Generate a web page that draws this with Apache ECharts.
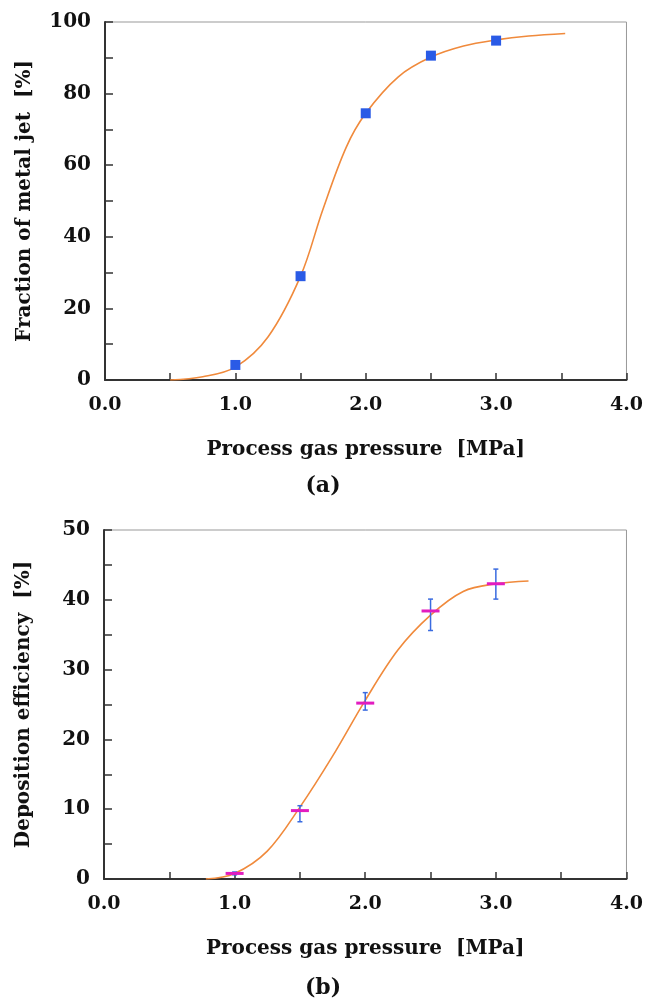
<!DOCTYPE html>
<html style="height: 100%;">
<head>
    <meta charset="UTF-8">
    <script src="https://cdn.jsdelivr.net/npm/echarts/dist/echarts.min.js"></script>
</head>
<body style="height: 100%; margin: 0; background: #fff;">
    <div id="chart" style="width: 646px; height: 1002px;"></div>

    <script type="text/javascript">
        // (a) fraction of metal jet, measured points
        var fracX = [1.0, 1.5, 2.0, 2.5, 3.0];
        var fracY = [4.2, 29.0, 74.5, 90.6, 94.8];
        // (a) fitted curve
        var fracCurveX = [0.5, 0.75, 1.0, 1.25, 1.5, 1.67, 1.85, 2.0, 2.25, 2.5, 2.75, 3.0, 3.25, 3.53];
        var fracCurveY = [0.0, 0.9, 3.6, 12.0, 29.0, 47.5, 65.0, 74.5, 84.7, 90.2, 93.3, 95.0, 96.1, 96.8];

        // (b) deposition efficiency, measured points with error bars
        var depX = [1.0, 1.5, 2.0, 2.5, 3.0];
        var depY = [0.8, 9.8, 25.2, 38.4, 42.3];
        var depLow = [0.6, 8.2, 24.2, 35.6, 40.1];
        var depHigh = [1.0, 10.5, 26.7, 40.1, 44.4];
        // (b) fitted curve
        var depCurveX = [0.78, 1.0, 1.25, 1.5, 1.75, 2.0, 2.25, 2.5, 2.75, 3.0, 3.25];
        var depCurveY = [0.0, 0.8, 4.0, 10.3, 17.6, 25.6, 32.8, 37.8, 41.2, 42.3, 42.7];

        var FONT = 'DejaVu Serif';
        var chart = echarts.init(document.getElementById('chart'));

        function zip(xs, ys) {
            return xs.map(function (x, i) { return [x, ys[i]]; });
        }

        function xAxisFor(gridIndex) {
            return {
                type: 'value',
                gridIndex: gridIndex,
                min: 0,
                max: 4,
                interval: 0.5,
                name: 'Process gas pressure  [MPa]',
                nameLocation: 'middle',
                nameGap: 60,
                nameTextStyle: { fontFamily: FONT, fontWeight: 'bold', fontSize: 20, color: '#111' },
                axisLine: { lineStyle: { color: '#333', width: 2 } },
                axisTick: { inside: true, length: 7, lineStyle: { color: '#333', width: 1.5 } },
                axisLabel: {
                    margin: 16,
                    fontFamily: FONT, fontWeight: 'bold', fontSize: 19, color: '#111',
                    formatter: function (v) { return v % 1 === 0 ? v.toFixed(1) : ''; }
                },
                splitLine: { show: false }
            };
        }

        function yAxisFor(gridIndex, max, interval, labelStep, title) {
            return {
                type: 'value',
                gridIndex: gridIndex,
                min: 0,
                max: max,
                interval: interval,
                name: title,
                nameLocation: 'middle',
                nameRotate: 90,
                nameGap: 70,
                nameTextStyle: { fontFamily: FONT, fontWeight: 'bold', fontSize: 20, color: '#111' },
                axisLine: { show: true, lineStyle: { color: '#333', width: 2 } },
                axisTick: { show: true, inside: true, length: 8, lineStyle: { color: '#333', width: 1.5 } },
                axisLabel: {
                    margin: 14,
                    fontFamily: FONT, fontWeight: 'bold', fontSize: 20, color: '#111',
                    formatter: function (v) { return v % labelStep === 0 ? String(v) : ''; }
                },
                splitLine: { show: false }
            };
        }

        var option = {
            animation: false,
            backgroundColor: '#fff',
            grid: [
                { left: 105, top: 22, width: 527, height: 358, show: true, borderColor: '#999', borderWidth: 1 },
                { left: 104, top: 530, width: 528, height: 349, show: true, borderColor: '#999', borderWidth: 1 }
            ],
            xAxis: [xAxisFor(0), xAxisFor(1)],
            yAxis: [
                yAxisFor(0, 100, 10, 20, 'Fraction of metal jet  [%]'),
                yAxisFor(1, 50, 5, 10, 'Deposition efficiency  [%]')
            ],
            graphic: [
                { type: 'text', left: 'center', top: 475, style: { text: '(a)', font: 'bold 22px "DejaVu Serif"', fill: '#111' } },
                { type: 'text', left: 'center', top: 977, style: { text: '(b)', font: 'bold 22px "DejaVu Serif"', fill: '#111' } }
            ],
            series: [
                {
                    type: 'line',
                    xAxisIndex: 0, yAxisIndex: 0,
                    data: zip(fracCurveX, fracCurveY),
                    smooth: 0.35,
                    showSymbol: false,
                    lineStyle: { color: '#f08a3c', width: 1.6 },
                    z: 2
                },
                {
                    type: 'scatter',
                    xAxisIndex: 0, yAxisIndex: 0,
                    data: zip(fracX, fracY),
                    symbol: 'rect',
                    symbolSize: 10,
                    itemStyle: { color: '#2a5be6', opacity: 1 },
                    z: 3
                },
                {
                    type: 'line',
                    xAxisIndex: 1, yAxisIndex: 1,
                    data: zip(depCurveX, depCurveY),
                    smooth: 0.35,
                    showSymbol: false,
                    lineStyle: { color: '#f08a3c', width: 1.6 },
                    z: 2
                },
                {
                    // error bars (blue) with a magenta dash at the mean
                    type: 'custom',
                    xAxisIndex: 1, yAxisIndex: 1,
                    data: depX.map(function (x, i) { return [x, depLow[i], depHigh[i], depY[i]]; }),
                    renderItem: function (params, api) {
                        var x = api.value(0);
                        var lo = api.coord([x, api.value(1)]);
                        var hi = api.coord([x, api.value(2)]);
                        var p = api.coord([x, api.value(3)]);
                        var blue = { stroke: '#3a6be0', lineWidth: 1.5 };
                        return {
                            type: 'group',
                            children: [
                                { type: 'line', shape: { x1: lo[0], y1: lo[1], x2: hi[0], y2: hi[1] }, style: blue },
                                { type: 'line', shape: { x1: lo[0] - 2.5, y1: lo[1], x2: lo[0] + 2.5, y2: lo[1] }, style: blue },
                                { type: 'line', shape: { x1: hi[0] - 2.5, y1: hi[1], x2: hi[0] + 2.5, y2: hi[1] }, style: blue },
                                { type: 'line', shape: { x1: p[0] - 9, y1: p[1], x2: p[0] + 9, y2: p[1] }, style: { stroke: '#e21cc0', lineWidth: 3 } }
                            ]
                        };
                    },
                    z: 3
                }
            ]
        };

        chart.setOption(option);
        window.addEventListener('resize', chart.resize);
    </script>
</body>
</html>
